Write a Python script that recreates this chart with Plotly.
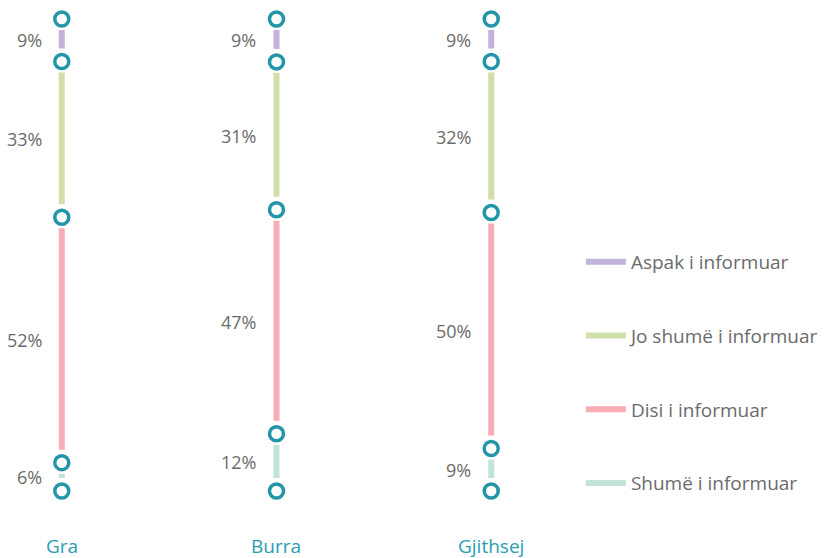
import plotly.graph_objects as go

categories = ["Gra", "Burra", "Gjithsej"]
levels = ["Aspak i informuar", "Jo shumë i informuar", "Disi i informuar", "Shumë i informuar"]
aspak = [9, 9, 9]
jo_shume = [33, 31, 32]
disi = [52, 47, 50]
shume = [6, 12, 9]

colors = ["#c2b4d8", "#d0dea9", "#f7adb5", "#c2e3d8"]
teal = "#2295a8"
gray = "#6b6b6b"

W, H = 825, 558
TOP_PX, BOT_PX = 19, 491
ppu = (BOT_PX - TOP_PX) / 100.0
y_range = [(H - TOP_PX) / ppu, -TOP_PX / ppu]
X0_PX, DX_PX = 62, 215.5
x_range = [-X0_PX / DX_PX, (W - X0_PX) / DX_PX]
gap_top = 11 / ppu
gap_bot = 13 / ppu

fig = go.Figure()
series = [aspak, jo_shume, disi, shume]
for ci, cat in enumerate(categories):
    vals = [s[ci] for s in series]
    tot = sum(vals)
    cum = [0.0]
    for v in vals:
        cum.append(cum[-1] + v / tot * 100)
    for si, v in enumerate(vals):
        y0 = cum[si] + gap_top
        y1 = cum[si + 1] - gap_bot
        if y1 < y0:
            m = (cum[si] + cum[si + 1]) / 2
            y0, y1 = m - 0.3, m + 0.3
        fig.add_trace(go.Scatter(
            x=[ci, ci], y=[y0, y1], mode="lines",
            line=dict(color=colors[si], width=6),
            name=levels[si], legendgroup=levels[si],
            showlegend=(ci == 0), hoverinfo="skip"))
        fig.add_annotation(
            x=ci, y=(cum[si] + cum[si + 1]) / 2, xref="x", yref="y",
            text=f"{v}%", showarrow=False, xanchor="right", yanchor="middle",
            xshift=-18, font=dict(family="Open Sans", size=18, color=gray))
    fig.add_trace(go.Scatter(
        x=[ci] * len(cum), y=cum, mode="markers",
        marker=dict(size=14, color="white", line=dict(color=teal, width=3.5)),
        showlegend=False, hoverinfo="skip"))
    fig.add_annotation(
        x=ci, y=1 - 546 / H, xref="x", yref="paper", yanchor="middle",
        text=cat, showarrow=False,
        font=dict(family="Open Sans", size=19, color="#2a9db2"))

fig.update_layout(
    width=W, height=H, margin=dict(l=0, r=0, t=0, b=0),
    plot_bgcolor="white", paper_bgcolor="white",
    xaxis=dict(range=x_range, visible=False, fixedrange=True),
    yaxis=dict(range=y_range, visible=False, fixedrange=True),
    legend=dict(x=583 / W, y=1 - 243 / H, xanchor="left", yanchor="top",
                tracegroupgap=46, itemwidth=40,
                font=dict(family="Open Sans", size=19, color=gray),
                bgcolor="rgba(0,0,0,0)"),
    showlegend=True,
)

fig.write_html("out.html", config={"displayModeBar": False},
               post_script="document.body.style.margin='0';document.body.style.padding='0';")
